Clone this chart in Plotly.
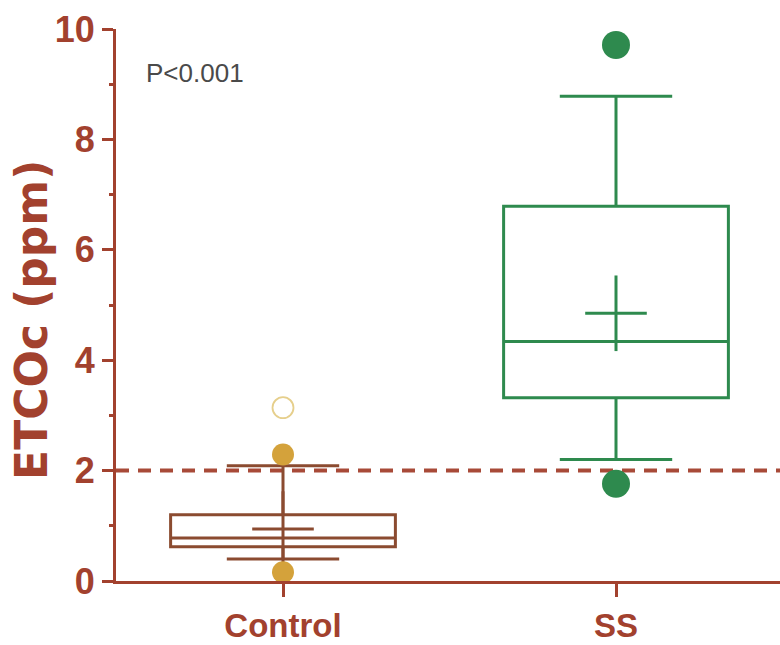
import plotly.graph_objects as go

# ---- data ----
groups = ["Control", "SS"]
group_pos = [0, 1]
q1 = [0.62, 3.32]
median = [0.78, 4.34]
q3 = [1.20, 6.79]
lower_whisker = [0.40, 2.20]
upper_whisker = [2.09, 8.78]
means = [0.94, 4.85]
outliers_filled = [[2.29, 0.16], [9.71, 1.76]]
outliers_open = [[3.14], []]
threshold = 2.0
y_ticks = [0, 2, 4, 6, 8, 10]
p_text = "P<0.001"

# ---- styles ----
AXIS = "#A2412E"
BOX_COL = ["#8B4B30", "#2E8A4E"]
PT_COL = ["#D4A23B", "#2E8A4E"]
PT_SIZE = [22, 28]
OPEN_COL = "#E6CF8C"
ARIAL = "Liberation Sans, Arial, sans-serif"
WIDE = "DejaVu Sans, Liberation Sans, Arial, sans-serif"

fig = go.Figure()

for i in range(len(groups)):
    fig.add_trace(go.Box(
        x=[group_pos[i]], q1=[q1[i]], median=[median[i]], q3=[q3[i]],
        lowerfence=[lower_whisker[i]], upperfence=[upper_whisker[i]],
        width=0.675, whiskerwidth=0.5,
        line=dict(color=BOX_COL[i], width=3),
        fillcolor="rgba(255,255,255,0)",
        boxpoints=False, showlegend=False, hoverinfo="skip",
    ))
    # mean "+"
    fig.add_trace(go.Scatter(
        x=[group_pos[i]], y=[means[i]], mode="markers",
        marker=dict(symbol="line-ew", size=44, line=dict(color=BOX_COL[i], width=3)),
        showlegend=False, hoverinfo="skip", cliponaxis=False,
    ))
    fig.add_trace(go.Scatter(
        x=[group_pos[i]], y=[means[i]], mode="markers",
        marker=dict(symbol="line-ns", size=54, line=dict(color=BOX_COL[i], width=3)),
        showlegend=False, hoverinfo="skip", cliponaxis=False,
    ))
    fig.add_trace(go.Scatter(
        x=[group_pos[i]] * len(outliers_filled[i]), y=outliers_filled[i], mode="markers",
        marker=dict(symbol="circle", size=PT_SIZE[i], color=PT_COL[i], line=dict(width=0)),
        showlegend=False, hoverinfo="skip", cliponaxis=False,
    ))
    if outliers_open[i]:
        fig.add_trace(go.Scatter(
            x=[group_pos[i]] * len(outliers_open[i]), y=outliers_open[i], mode="markers",
            marker=dict(symbol="circle-open", size=21, color=OPEN_COL, line=dict(width=1.8, color=OPEN_COL)),
            showlegend=False, hoverinfo="skip", cliponaxis=False,
        ))

fig.add_shape(type="line", xref="paper", x0=0, x1=1, yref="y", y0=threshold, y1=threshold,
              line=dict(color="#A84A38", width=4, dash="13px,9px"), layer="below")

fig.add_annotation(text="ETCOc (ppm)", xref="paper", yref="paper", x=0, y=0.473,
                   xshift=-84, xanchor="center", yanchor="middle", textangle=-90, showarrow=False,
                   font=dict(family=WIDE, size=44, color=AXIS, weight="bold"))
fig.add_annotation(text=p_text, xref="paper", yref="paper", x=0, y=0.92, xshift=28,
                   xanchor="left", yanchor="middle", showarrow=False,
                   font=dict(family=ARIAL, size=26, color="#4A4A4A"))

fig.update_layout(
    width=780, height=645,
    margin=dict(l=116, r=0, t=29, b=64),
    plot_bgcolor="white", paper_bgcolor="white",
    xaxis=dict(range=[-0.5015, 1.4925], tickmode="array", tickvals=group_pos, ticktext=groups,
               automargin=False,
               showline=True, linecolor=AXIS, linewidth=3, ticks="outside", ticklen=13,
               tickwidth=3, tickcolor=AXIS, showgrid=False, zeroline=False,
               tickfont=dict(family=ARIAL, size=33, color=AXIS, weight="bold")),
    yaxis=dict(range=[0, 10], tickmode="array", tickvals=y_ticks, automargin=False,
               showline=True, linecolor=AXIS, linewidth=3, ticks="outside", ticklen=11,
               tickwidth=3, tickcolor=AXIS, showgrid=False, zeroline=False,
               minor=dict(dtick=1, ticks="outside", ticklen=4, tickwidth=3, tickcolor=AXIS, showgrid=False),
               tickfont=dict(family=ARIAL, size=36, color=AXIS, weight="bold")),
)

fig.write_html(
    "out.html",
    config={"displayModeBar": False},
    post_script="document.body.style.margin='0';document.body.style.overflow='hidden';",
)
